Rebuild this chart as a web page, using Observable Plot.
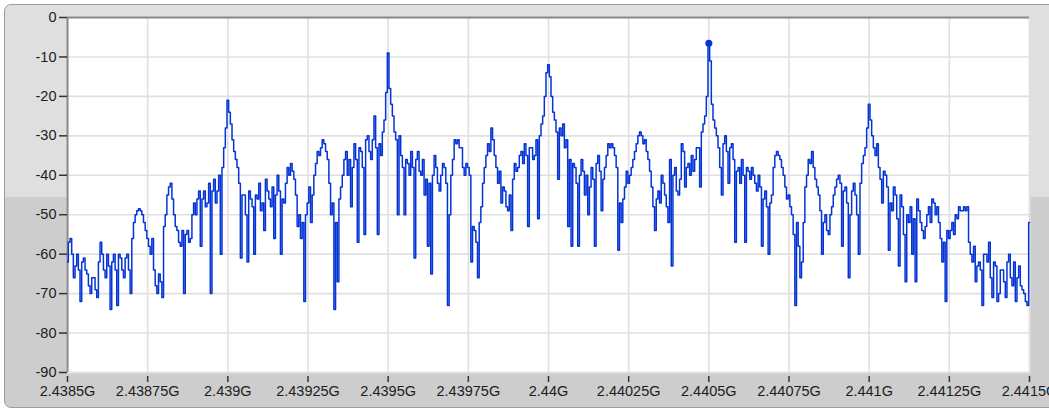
<!DOCTYPE html>
<html><head><meta charset="utf-8">
<script src="https://cdn.jsdelivr.net/npm/d3@7"></script>
<script src="https://cdn.jsdelivr.net/npm/@observablehq/plot@0.6"></script>
<style>
html,body{margin:0;padding:0;background:#fff;width:1049px;height:410px;overflow:hidden}
#panel{position:absolute;left:4px;top:4px;width:1070px;height:402px;border:1.5px solid #9c9c9c;border-radius:7px;background:linear-gradient(to bottom,#dfdfdf 0,#dfdfdf 192px,#cdcdcd 192px,#cdcdcd 100%)}
#chart{position:absolute;left:0;top:0}
</style></head><body>
<div id="panel"></div>
<div id="chart"></div>
<script>
// Sweep: 2.4385 GHz to 2.4415 GHz, 577 uniformly spaced bins (48 per 0.25 MHz division)
const sweepStartGHz = 2.4385;
const sweepStopGHz = 2.4415;
const levelsDbm = [
  -62,-57,-56,-60,-66,-63,-60,-64,-72,-62,-61,-64,-65,-68,-70,-66,-66,-69,-71,-62,-57,-60,-64,-66,-60,-63,-74,-62,-60,-64,-73,-60,-61,-64,-66,-61,-60,-64,-70,-56,-52,-50,-49,-48.5,-49,-50,-52,-54,
  -56,-58,-60,-56,-64,-68,-70,-65,-67,-71,-53,-50,-45,-43,-42,-46,-50,-53,-54,-57,-58,-54,-70,-55,-54,-57,-56,-50,-47,-50,-46,-44,-58,-46,-44,-48,-47,-42,-70,-44,-41,-47,-44,-40,-60,-38,-33,-28,
  -21,-24,-27,-31,-34,-36,-38,-42,-61,-45,-45,-50,-62,-44,-46,-48,-60,-45,-46,-42,-49,-47,-54,-41,-44,-46,-48,-43,-56,-45,-40,-44,-60,-46,-47,-42,-38,-40,-37,-39,-41,-45,-53,-50,-56,-52,-72,-50,
  -47,-43,-52,-45,-40,-37,-34,-35,-33,-31,-32,-34,-36,-42,-50,-47,-74,-52,-67,-46,-43,-40,-36,-34,-40,-36,-48,-38,-32,-36,-57,-33,-34,-38,-55,-31,-30,-34,-36,-31,-25,-33,-55,-32,-35,-29,-26,-19,
  -9,-18,-22,-25,-29,-31,-50,-30,-35,-38,-50,-36,-37,-40,-34,-38,-61,-36,-34,-39,-40,-36,-45,-41,-58,-42,-65,-40,-35,-38,-42,-44,-40,-37,-38,-42,-73,-50,-40,-36,-31,-32,-31,-33,-33,-38,-40,-37,
  -38,-40,-62,-53,-54,-57,-66,-52,-48,-42,-38,-35,-32,-34,-28,-31,-35,-38,-42,-39,-47,-43,-44,-48,-49,-45,-54,-41,-37,-39,-38,-35,-34,-37,-32,-35,-53,-33,-33,-36,-35,-31,-51,-30,-27,-25,-20,-14,
  -12,-15,-20,-24,-26,-29,-41,-28,-30,-27,-33,-31,-53,-36,-58,-37,-38,-42,-58,-40,-36,-39,-45,-40,-50,-43,-38,-41,-58,-37,-35,-39,-49,-41,-38,-35,-32,-33,-32,-33,-35,-38,-59,-47,-52,-46,-43,-39,
  -42,-40,-38,-36,-34,-32,-30,-29,-30,-32,-31,-34,-36,-39,-43,-48,-54,-46,-44,-47,-40,-42,-45,-48,-52,-36,-63,-40,-38,-44,-45,-41,-32,-34,-43,-38,-37,-40,-35,-39,-36,-33,-33,-43,-29,-27,-25,-20,
  -6.5,-11,-22,-26,-28,-30,-33,-38,-45,-32,-30,-34,-42,-33,-32,-36,-57,-39,-38,-42,-36,-40,-57,-38,-39,-41,-38,-40,-42,-44,-40,-43,-58,-46,-44,-48,-60,-47,-45,-38,-35,-34,-35,-36,-38,-40,-43,-46,
  -45,-48,-50,-55,-73,-52,-58,-66,-62,-52,-43,-40,-36,-37,-34,-38,-41,-43,-45,-49,-60,-52,-50,-54,-55,-50,-48,-45,-43,-41,-40,-42,-58,-44,-43,-47,-66,-50,-44,-42,-45,-50,-60,-42,-37,-35,-33,-28,
  -22,-26,-30,-33,-35,-32,-38,-41,-47,-39,-40,-43,-59,-47,-49,-43,-45,-51,-63,-45,-48,-55,-67,-50,-52,-48,-60,-51,-67,-46,-49,-52,-54,-56,-53,-50,-48,-52,-46,-47,-50,-48,-52,-56,-62,-57,-72,-54,
  -56,-54,-52,-55,-50,-51,-48,-49,-49,-48,-49,-48,-57,-60,-62,-58,-67,-63,-62,-64,-73,-60,-60,-62,-57,-66,-71,-62,-63,-72,-70,-64,-64,-67,-71,-62,-60,-66,-68,-62,-72,-66,-63,-68,-69,-70,-72,-73,
  -52
];
const markerFreqGHz = [2.4405];
const markerLevelDbm = [-6.5];
const xTickValues = [2.4385, 2.43875, 2.439, 2.43925, 2.4395, 2.43975, 2.44, 2.44025, 2.4405, 2.44075, 2.441, 2.44125, 2.4415];
const xTickLabels = ["2.4385G","2.43875G","2.439G","2.43925G","2.4395G","2.43975G","2.44G","2.44025G","2.4405G","2.44075G","2.441G","2.44125G","2.4415G"];
const yTickValues = [-90,-80,-70,-60,-50,-40,-30,-20,-10,0];
const yTickLabels = ["-90","-80","-70","-60","-50","-40","-30","-20","-10","0"];

const n = levelsDbm.length;
const spectrum = levelsDbm.map((v, i) => ({f: sweepStartGHz + (sweepStopGHz - sweepStartGHz) * i / (n - 1), v}));
const marker = markerFreqGHz.map((f, i) => ({f, v: markerLevelDbm[i]}));
const xLabel = new Map(xTickValues.map((d, i) => [d, xTickLabels[i]]));
const yLabel = new Map(yTickValues.map((d, i) => [d, yTickLabels[i]]));
const blue = "#0434d6";

const chart = Plot.plot({
  width: 1049, height: 410,
  marginLeft: 67, marginRight: 20, marginTop: 17, marginBottom: 38,
  style: {background: "transparent", fontFamily: "'Liberation Sans', Arial, sans-serif", fontSize: "14.5px", color: "#1c1c1c", overflow: "visible"},
  x: {domain: [sweepStartGHz, sweepStopGHz]},
  y: {domain: [-90, 0]},
  marks: [
    Plot.frame({fill: "white", stroke: "#ececec", strokeWidth: 1.5}),
    Plot.gridX(xTickValues, {stroke: "#e0e0e0", strokeOpacity: 1, strokeWidth: 1.6}),
    Plot.gridY(yTickValues, {stroke: "#e0e0e0", strokeOpacity: 1, strokeWidth: 1.6}),
    Plot.ruleY([0], {stroke: "#8a8a8a", strokeWidth: 2}),
    Plot.ruleX([sweepStartGHz], {stroke: "#8a8a8a", strokeWidth: 2}),
    Plot.line(spectrum, {x: "f", y: "v", curve: "step", stroke: blue, strokeWidth: 1.5}),
    Plot.dot(marker, {x: "f", y: "v", r: 3.5, fill: blue, stroke: null}),
    Plot.axisY(yTickValues, {tickSize: 8, tickPadding: 3, tickFormat: d => yLabel.get(d), stroke: "#333", strokeWidth: 1.5, label: null}),
    Plot.axisX(xTickValues, {tickSize: 6, tickPadding: 3, dy: 4, tickFormat: d => xLabel.get(d), stroke: "#333", strokeWidth: 1.5, label: null})
  ]
});
document.getElementById("chart").appendChild(chart);
</script></body></html>
